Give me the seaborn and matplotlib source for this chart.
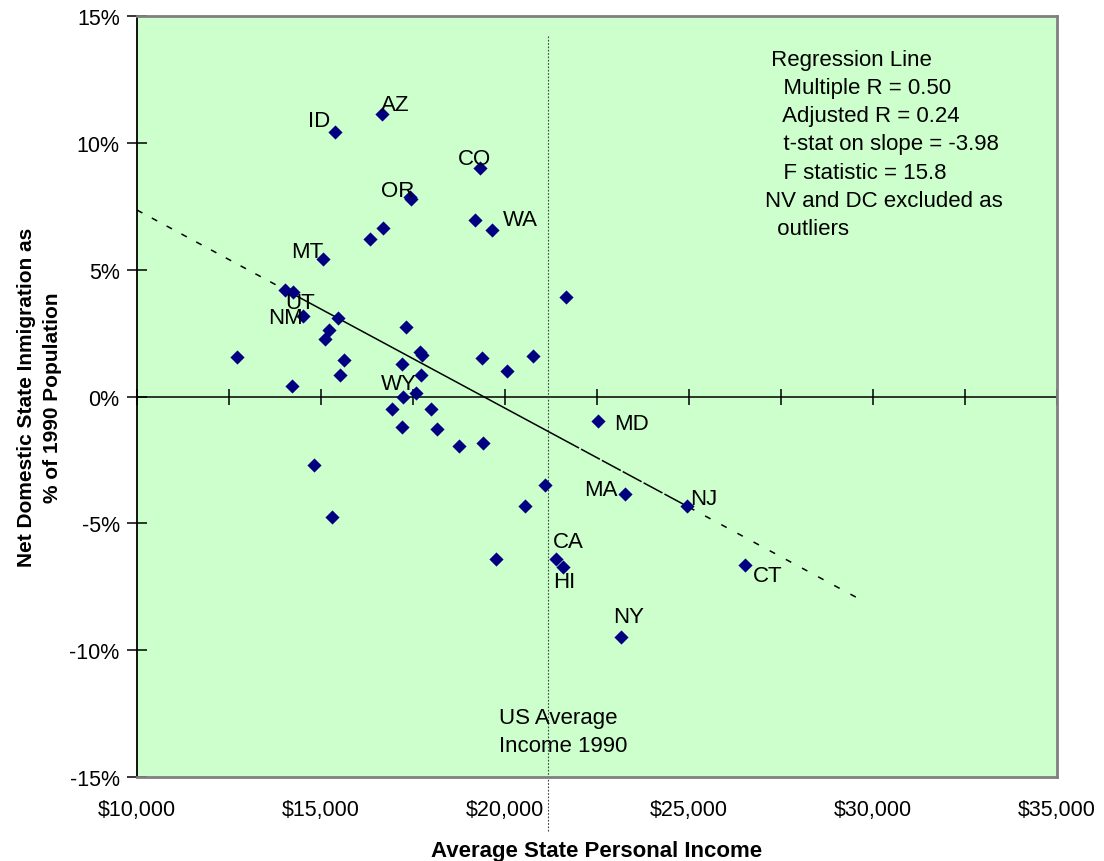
import numpy as np
import pandas as pd
import seaborn as sns
from matplotlib import pyplot as plt
from matplotlib.ticker import FuncFormatter, MultipleLocator

# data
income = [15380, 16650, 19330, 17420, 17450, 19185, 19655, 16685, 16330, 15063,
          21658, 14022, 14250, 14520, 15453, 17318, 15226, 15109, 12726, 15634,
          17690, 17736, 19383, 20770, 17201, 20063, 15507, 17717, 14203, 17219,
          17573, 16920, 17981, 17201, 18160, 18750, 19411, 14801, 21096, 20543,
          15290, 19747, 21394, 21584, 22536, 23269, 24937, 26522, 23160]
migration = [10.43, 11.13, 9.01, 7.87, 7.80, 6.95, 6.56, 6.64, 6.21, 5.44,
             3.94, 4.18, 4.13, 3.17, 3.10, 2.73, 2.61, 2.27, 1.55, 1.42,
             1.76, 1.62, 1.51, 1.58, 1.29, 1.00, 0.83, 0.83, 0.43, -0.01,
             0.12, -0.49, -0.50, -1.20, -1.30, -1.94, -1.83, -2.71, -3.48, -4.30,
             -4.74, -6.42, -6.39, -6.73, -0.97, -3.86, -4.31, -6.63, -9.49]
state = ['ID', 'AZ', 'CO', 'OR', '', '', 'WA', '', '', 'MT',
         '', '', 'UT', 'NM', '', '', '', '', '', '',
         '', '', '', '', '', '', '', '', '', 'WY',
         '', '', '', '', '', '', '', '', '', '',
         '', '', 'CA', 'HI', 'MD', 'MA', 'NJ', 'CT', 'NY']

us_avg_income = 21177
trend_start = 7.35      # % at $10,000
trend_slope = -0.781    # % per $1,000
trend_breaks = [10000, 14000, 21500, 25000, 29700]

stats_text = (" Regression Line\n   Multiple R = 0.50\n   Adjusted R = 0.24\n"
              "   t-stat on slope = -3.98\n   F statistic = 15.8\n"
              "NV and DC excluded as\n  outliers")

df = pd.DataFrame({'income': income, 'migration': migration, 'state': state})

# label offsets in pixels (dx right, dy down) from the point to the label centre
label_off = {'ID': (-16, -14), 'AZ': (14, -12), 'CO': (-6, -12), 'OR': (-12, -9),
             'WA': (28, -13), 'MT': (-16, -10), 'UT': (7, 8), 'NM': (-18, -1),
             'WY': (-4, -16), 'CA': (12, -20), 'HI': (1, 12), 'MD': (33, 0),
             'MA': (-24, -7), 'NJ': (17, -10), 'CT': (23, 8), 'NY': (7, -23)}

sns.set_style('white')
plt.rcParams['font.family'] = ['Liberation Sans', 'DejaVu Sans']
plt.rcParams['axes.unicode_minus'] = False
for k in ['text.color', 'axes.labelcolor', 'xtick.color', 'ytick.color']:
    plt.rcParams[k] = 'black'

fig = plt.figure(figsize=(11.04, 8.62), dpi=100)
ax = fig.add_axes([0.1241, 0.0974, 0.8333, 0.8829])
ax.set_facecolor('#CCFFCC')

# regression line, dashed where it is extrapolated
tx = np.array(trend_breaks, dtype=float)
ty = trend_start + trend_slope * (tx - 10000) / 1000
styles = [(0, (4, 7)), '-', (0, (14, 1.5)), (0, (4, 8))]
for i, ls in enumerate(styles):
    ax.plot(tx[i:i + 2], ty[i:i + 2], color='black', lw=1.1, ls=ls, zorder=2)

sns.scatterplot(data=df, x='income', y='migration', marker='D', s=52,
                color='#000080', linewidth=0, ax=ax, zorder=3)

for x, y, s in zip(income, migration, state):
    if s:
        dx, dy = label_off[s]
        ax.annotate(s, (x, y), xytext=(dx * 0.72, -(dy + 8) * 0.72),
                    textcoords='offset points', ha='center', va='baseline',
                    fontsize=16, zorder=4)

ax.axhline(0, color='black', lw=1.1, zorder=1)
ax.axvline(us_avg_income, ymin=-0.071, ymax=0.974, color='#404040', lw=0.8,
           ls=(0, (1.5, 1.5)), clip_on=False, zorder=1)

ax.text(0.6826, 0.957, stats_text, transform=ax.transAxes, ha='left', va='top',
        fontsize=16, linespacing=1.45)
ax.text(0.3935, 0.060, "US Average\nIncome 1990", transform=ax.transAxes,
        ha='left', va='center', fontsize=16, linespacing=1.45)

ax.set_xlim(10000, 35000)
ax.set_ylim(-15, 15)
ax.set_xticks(range(10000, 35001, 5000))
ax.set_yticks(range(-15, 16, 5))
ax.xaxis.set_major_formatter(FuncFormatter(lambda v, p: '${:,.0f}'.format(v)))
ax.yaxis.set_major_formatter(FuncFormatter(lambda v, p: '{:.0f}%'.format(v)))
ax.tick_params(axis='x', length=0, pad=16, labelsize=15.5)
ax.tick_params(axis='y', direction='inout', length=15, width=1.1, pad=5,
               labelsize=15.5, left=True)

# tick marks on the zero line
sec = ax.secondary_xaxis(0.5)
sec.xaxis.set_major_locator(MultipleLocator(2500))
sec.tick_params(direction='inout', length=12, width=1.1, labelbottom=False,
                labeltop=False)
for sp in sec.spines.values():
    sp.set_visible(False)

for side in ['top', 'right', 'bottom']:
    ax.spines[side].set_color('#808080')
    ax.spines[side].set_linewidth(2)
ax.spines['left'].set_color('black')
ax.spines['left'].set_linewidth(1.3)

ax.set_xlabel('Average State Personal Income', fontsize=16, fontweight='bold',
              labelpad=14)
ax.set_ylabel('Net Domestic State Inmigration as\n% of 1990 Population',
              fontsize=15, fontweight='bold', labelpad=5, linespacing=1.5)

fig.savefig('out.png', dpi=100)
